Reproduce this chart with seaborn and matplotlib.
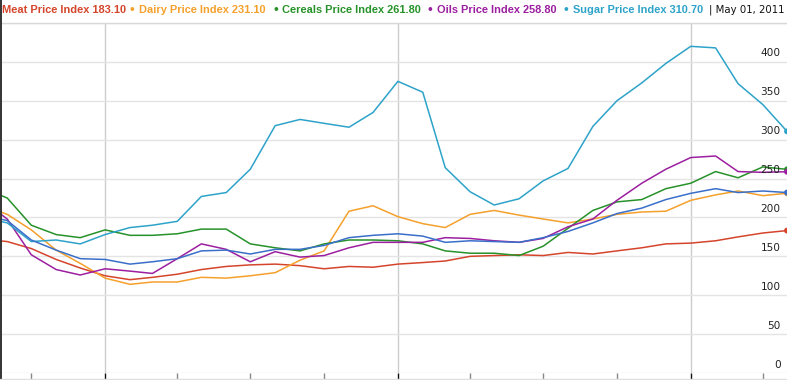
import pandas as pd
import matplotlib
matplotlib.use("Agg")
import matplotlib.pyplot as plt
import matplotlib.dates as mdates
from matplotlib.lines import Line2D
import seaborn as sns

# monthly FAO price indices, Aug 2008 .. May 2011
months = pd.date_range("2008-08-01", "2011-05-01", freq="MS")

meat = [172, 169, 160, 146, 135, 125, 120, 123, 127, 133, 137, 139, 140, 138, 134, 137, 136,
        140, 142, 144, 150, 151, 152, 151, 155, 153, 157, 161, 166, 167, 170, 175, 180, 183.1]
dairy = [215, 204, 184, 158, 141, 122, 114, 117, 117, 123, 122, 125, 129, 145, 157, 208, 215,
         201, 192, 187, 204, 209, 203, 198, 193, 198, 204, 207, 208, 222, 229, 234, 228, 231.1]
cereals = [238, 225, 190, 178, 174, 184, 177, 177, 179, 185, 185, 166, 161, 157, 166, 171, 171,
           170, 166, 157, 154, 154, 151, 163, 186, 209, 220, 223, 237, 244, 259, 251, 265, 261.8]
oils = [222, 198, 152, 133, 126, 134, 131, 128, 147, 166, 159, 143, 156, 149, 151, 161, 168,
        168, 168, 174, 173, 170, 168, 173, 188, 198, 222, 244, 262, 277, 279, 259, 258, 258.8]
sugar = [200, 193, 169, 171, 166, 178, 187, 190, 195, 227, 232, 262, 318, 326, 321, 316, 335,
         375, 361, 264, 233, 216, 224, 247, 263, 317, 350, 373, 398, 420, 418, 372, 345, 310.7]
food = [203, 196, 171, 158, 147, 146, 140, 143, 147, 157, 158, 153, 159, 159, 164, 174, 177,
        179, 176, 168, 170, 169, 168, 174, 182, 193, 205, 212, 223, 231, 237, 232, 234, 232]

names = ["Meat Price Index", "Dairy Price Index", "Cereals Price Index",
         "Oils Price Index", "Sugar Price Index", "Food Price Index"]
colors = ["#d4452b", "#f5a02c", "#27922a", "#9c1fa0", "#2ea3c9", "#3a6fc9"]
header_names = names[:5]
date_label = "May 01, 2011"
y_ticks = [0, 50, 100, 150, 200, 250, 300, 350, 400]

df = pd.DataFrame({"Date": months, names[0]: meat, names[1]: dairy, names[2]: cereals,
                   names[3]: oils, names[4]: sugar, names[5]: food})
long = df.melt(id_vars="Date", var_name="Series", value_name="Value")

sns.set_style("white")
plt.rcParams["font.family"] = ["Liberation Sans", "DejaVu Sans"]

fig = plt.figure(figsize=(7.87, 3.80), dpi=100)
ax = fig.add_axes([0, 7 / 380, 1, 350 / 380])

palette = dict(zip(names, colors))
sns.lineplot(data=long, x="Date", y="Value", hue="Series", palette=palette,
             linewidth=1.1, legend=False, ax=ax)

# end-of-series dots, half clipped at the right edge
last = long[long["Date"] == months[-1]]
ax.scatter(last["Date"], last["Value"], c=[palette[s] for s in last["Series"]],
           s=18, zorder=5, clip_on=True, linewidths=0)

ax.set_xlim(pd.Timestamp("2008-08-23"), pd.Timestamp("2011-05-01"))
ax.set_ylim(0, 450)
ax.set_yticks(range(0, 451, 50))
ax.yaxis.grid(True, color="#e4e4e4", lw=1)
ax.tick_params(axis="y", left=False, right=False, labelleft=False)

ax.xaxis.set_major_locator(mdates.YearLocator())
ax.xaxis.set_minor_locator(mdates.MonthLocator(bymonth=[4, 7, 10]))
ax.xaxis.grid(True, which="major", color="#cccccc", lw=1)
ax.tick_params(axis="x", which="major", bottom=True, length=5, width=1, color="#111111",
               labelbottom=False, direction="out")
ax.tick_params(axis="x", which="minor", bottom=True, length=5, width=1, color="#888888",
               direction="out")
ax.set_xlabel("")
ax.set_ylabel("")
for side in ["left", "right", "bottom"]:
    ax.spines[side].set_visible(False)
ax.spines["top"].set_color("#d8d8d8")
ax.spines["top"].set_linewidth(1)

# y labels sit inside the plot, just above their gridline
off = matplotlib.transforms.offset_copy(ax.get_yaxis_transform(), fig=fig, x=0, y=8.5, units="dots")
for v in y_ticks:
    ax.text(0.992, v, str(v), transform=off, ha="right", va="center",
            fontsize=7.6, color="#222222", family="DejaVu Sans")

# header row
ends = [meat[-1], dairy[-1], cereals[-1], oils[-1], sugar[-1]]
text_x = [2, 139, 282, 437, 573]
dot_x = [None, 130, 273, 428, 564]
hy = 1 - 10 / 380
for i, name in enumerate(header_names):
    if dot_x[i] is not None:
        fig.text(dot_x[i] / 787, hy, "\u2022", color=colors[i], fontsize=10,
                 ha="left", va="center")
    fig.text(text_x[i] / 787, hy, f"{name} {ends[i]:.2f}", color=colors[i],
             fontsize=7.9, fontweight="bold", ha="left", va="center")
fig.text(709 / 787, hy, "| " + date_label, color="#111111", fontsize=7.3,
         ha="left", va="center", family="DejaVu Sans")

# left border and bottom rule of the widget
fig.add_artist(Line2D([0.0008, 0.0008], [0, 1], color="#333333", lw=1.4))
fig.add_artist(Line2D([0, 1], [1.5 / 380, 1.5 / 380], color="#e0e0e0", lw=1))

fig.savefig("out.png", dpi=100)
